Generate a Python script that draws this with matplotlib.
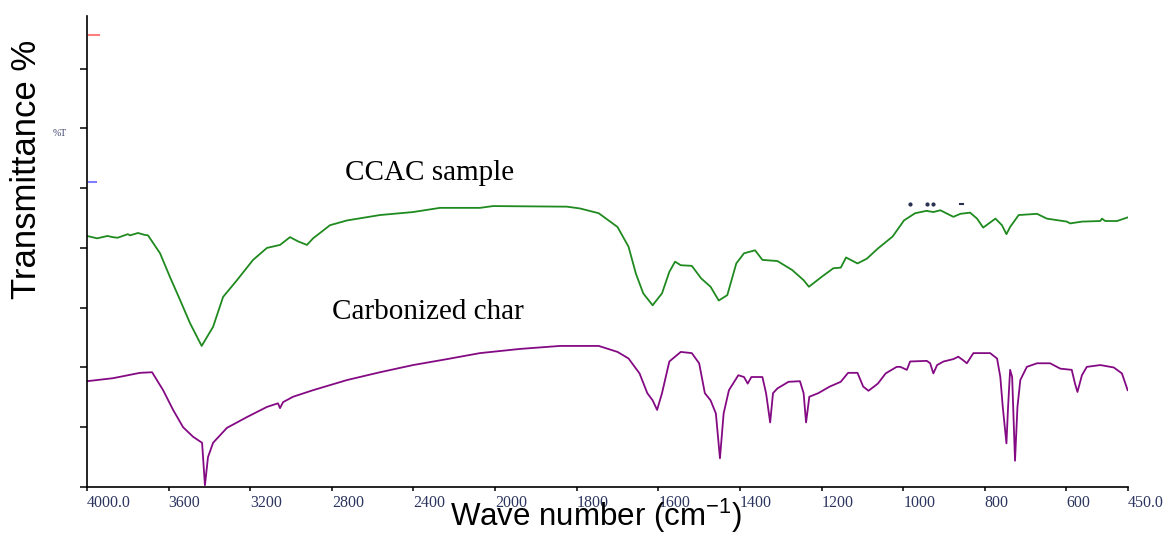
import numpy as np
import matplotlib
matplotlib.use("Agg")
import matplotlib.pyplot as plt

# -------------------------------------------------
# DATA (wavenumber in cm-1, arbitrary %T units)
# -------------------------------------------------
ccac_wn = [4000, 3950, 3900, 3873, 3850, 3800, 3789, 3750, 3720, 3701,
           3642, 3593, 3544, 3495, 3438, 3382, 3333, 3265, 3186, 3118,
           3054, 3005, 2966, 2922, 2892, 2809, 2725, 2564, 2402, 2270,
           2074, 2010, 1824, 1792, 1746, 1700, 1673, 1655, 1637, 1614,
           1591, 1573, 1559, 1545, 1518, 1495, 1472, 1452, 1431, 1409,
           1390, 1363, 1345, 1308, 1272, 1244, 1231, 1199, 1171, 1153,
           1140, 1112, 1089, 1062, 1026, 998, 971, 943, 926, 909,
           877, 860, 836, 819, 804, 790, 774, 758, 747, 738,
           717, 672, 648, 599, 591, 562, 517, 513, 505, 476, 450]
ccac_t = [42.0, 41.6, 42.0, 41.8, 41.7, 42.3, 42.1, 42.5, 42.2, 42.1,
          39.1, 35.1, 31.3, 27.4, 23.6, 26.8, 31.8, 34.6, 38.0, 40.0,
          40.5, 41.8, 41.1, 40.5, 41.6, 43.8, 44.6, 45.5, 46.0, 46.7,
          46.7, 47.0, 46.9, 46.6, 45.8, 43.5, 40.2, 35.7, 32.4, 30.4,
          32.4, 36.0, 37.7, 37.1, 37.0, 34.9, 33.5, 31.2, 32.1, 37.4,
          39.1, 39.6, 38.0, 37.8, 36.3, 34.6, 33.5, 35.2, 36.6, 36.7,
          38.4, 37.4, 38.2, 39.9, 41.9, 44.6, 45.8, 46.2, 46.0, 46.3,
          45.2, 45.7, 45.9, 44.9, 43.4, 44.1, 44.9, 43.8, 42.3, 43.5,
          45.5, 45.7, 44.9, 44.4, 44.1, 44.4, 44.5, 44.9, 44.5, 44.5, 45.1]

char_wn = [4000, 3873, 3740, 3681, 3627, 3578, 3529, 3480, 3436, 3422,
           3407, 3382, 3314, 3216, 3118, 3064, 3054, 3039, 2990, 2892,
           2725, 2564, 2402, 2235, 2074, 1939, 1841, 1792, 1746, 1700,
           1673, 1646, 1627, 1614, 1603, 1591, 1573, 1545, 1518, 1500,
           1486, 1472, 1459, 1449, 1440, 1427, 1404, 1390, 1381, 1372,
           1345, 1336, 1326, 1319, 1308, 1281, 1253, 1244, 1238, 1230,
           1208, 1180, 1153, 1135, 1112, 1098, 1085, 1062, 1043, 1016,
           1007, 991, 983, 942, 934, 926, 917, 901, 877, 865,
           853, 844, 828, 787, 770, 762, 756, 747, 743, 738,
           733, 726, 720, 713, 697, 672, 640, 615, 587, 579,
           573, 562, 550, 517, 484, 464, 450]
char_t = [17.7, 18.2, 19.1, 19.2, 16.2, 12.9, 10.0, 8.4, 7.4, 0.3,
          5.0, 7.4, 9.9, 11.7, 13.4, 14.0, 13.2, 14.2, 15.1, 16.2,
          17.9, 19.2, 20.4, 21.4, 22.4, 23.1, 23.6, 23.6, 23.6, 22.6,
          21.5, 19.0, 15.7, 14.5, 12.9, 15.7, 21.0, 22.6, 22.4, 20.7,
          15.7, 14.5, 12.3, 4.8, 12.3, 16.2, 18.7, 18.4, 17.3, 18.4,
          18.4, 15.7, 10.8, 15.7, 16.5, 17.6, 17.7, 15.7, 10.8, 15.1,
          15.7, 16.8, 17.6, 19.1, 19.1, 16.8, 16.1, 17.3, 19.0, 20.1,
          20.1, 19.6, 21.0, 21.1, 20.7, 19.0, 20.4, 21.0, 21.4, 21.8,
          21.2, 20.7, 22.4, 22.4, 21.5, 18.4, 13.4, 7.3, 13.4, 19.6,
          18.4, 4.4, 13.4, 17.9, 20.1, 20.7, 20.7, 19.8, 19.6, 17.3,
          15.9, 18.7, 20.1, 20.4, 20.0, 19.0, 16.2]

x_ticks = [4000, 3600, 3200, 2800, 2400, 2000, 1800, 1600, 1400, 1200, 1000, 800, 600, 450]
x_tick_labels = ["4000.0", "3600", "3200", "2800", "2400", "2000", "1800",
                 "1600", "1400", "1200", "1000", "800", "600", "450.0"]
y_ticks = [0, 10, 20, 30, 40, 50, 60, 70]

red_mark_level = 75.6
blue_mark_level = 51.0

# leftover peak-label fragments above the CCAC curve
frag_wn = [983, 942, 928]
frag_level = 47.4
frag_dash_wn = [862, 853]


# -------------------------------------------------
# x axis: scale doubles below 2000 cm-1 (FTIR style)
# -------------------------------------------------
def fwd(x):
    x = np.asarray(x, dtype=float)
    return np.where(x >= 2000, x, 2 * x - 2000)


def inv(u):
    u = np.asarray(u, dtype=float)
    return np.where(u >= 2000, u, (u + 2000) / 2)


plt.rcParams.update({
    "mathtext.fontset": "custom",
    "mathtext.rm": "Liberation Sans",
    "mathtext.it": "Liberation Sans",
})

fig = plt.figure(figsize=(11.63, 5.33), dpi=100)
ax = fig.add_axes([0.0748, 0.0863, 0.8948, 0.8837])

ax.plot(ccac_wn, ccac_t, color="#1f8a1f", linewidth=1.3)
ax.plot(char_wn, char_t, color="#840a84", linewidth=1.3)

ax.set_xscale("function", functions=(fwd, inv))
ax.set_xlim(4000, 450)
ax.set_ylim(0, 78.8)

ax.set_xticks(x_ticks)
ax.set_xticklabels(x_tick_labels, ha="left", family="Liberation Serif",
                   fontsize=11.5, color="#2c3560")
ax.set_yticks(y_ticks)
ax.set_yticklabels([])
ax.tick_params(axis="x", direction="out", length=3, width=1.1, pad=3)
ax.tick_params(axis="y", direction="out", length=5, width=1.1)

for s in ["top", "right"]:
    ax.spines[s].set_visible(False)
for s in ["left", "bottom"]:
    ax.spines[s].set_linewidth(1.2)

# small coloured level marks at the left axis
ax.plot([3990, 3941], [red_mark_level] * 2, color="#ff7f7f", linewidth=1.5)
ax.plot([3990, 3956], [blue_mark_level] * 2, color="#8080ff", linewidth=1.5)

# fragments
ax.plot(frag_wn, [frag_level] * len(frag_wn), linestyle="none", marker="o",
        markersize=2, color="#2a3050")
ax.plot(frag_dash_wn, [frag_level] * 2, color="#2a3050", linewidth=1.5)

# Curve labels
ax.text(2735, 51.3, "CCAC sample", family="Liberation Serif", fontsize=21,
        ha="left", va="baseline")
ax.text(2799, 28.1, "Carbonized char", family="Liberation Serif", fontsize=21,
        ha="left", va="baseline")

fig.text(60 / 1163, 1 - 134 / 533, "%T", family="Liberation Serif",
         fontsize=7, color="#3a3f6a", ha="center", va="center")

fig.text(27 / 1163, 1 - 169 / 533, "Transmittance %", family="Liberation Sans",
         fontsize=25, rotation=90, ha="center", va="center")
fig.text(596 / 1163, 1 - 516 / 533, r"Wave number (cm$^{\mathregular{-1}}$)",
         family="Liberation Sans", fontsize=22.5, ha="center", va="center")

fig.savefig("out.png", dpi=100)
